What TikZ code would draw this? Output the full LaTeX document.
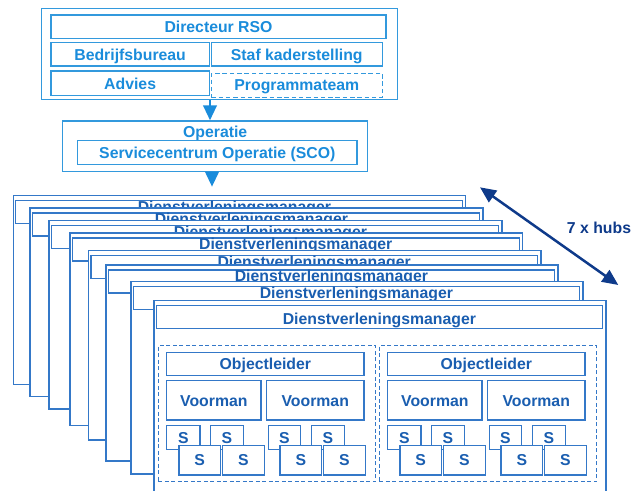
\documentclass[tikz,border=0pt]{standalone}
\usepackage{fontspec}
\setmainfont{Liberation Sans}
\usetikzlibrary{arrows.meta}
\definecolor{topline}{HTML}{3399DD}
\definecolor{toptext}{HTML}{1A8CDB}
\definecolor{lowline}{HTML}{3478C8}
\definecolor{lowtext}{HTML}{1A5EB0}
\definecolor{navyblue}{HTML}{0E3A8A}
\newcommand\rbox[7][]{\node[#1, minimum width={((#5)-(#3))*1pt}, minimum height={((#6)-(#4))*1pt}] (#2) at ({((#3)+(#5))/2},{((#4)+(#6))/2}) {#7};}
\begin{document}
\begin{tikzpicture}[x=1pt,y=-1pt,
  every node/.style={font=\bfseries\fontsize{15.8}{18}\selectfont, inner sep=0pt, text height=11.3pt, text depth=0pt},
  tbox/.style={draw=topline, line width=1.4pt, text=toptext},
  tdash/.style={tbox, line width=1.3pt, dash pattern=on 4.5pt off 2.8pt},
  sheetbox/.style={draw=lowline, line width=1.4pt, fill=white},
  hdr/.style={draw=lowline, line width=1.4pt, text=lowtext, text height=12.1pt, text depth=10.9pt},
  hdrlast/.style={hdr, text height=18.6pt, text depth=4.4pt},
  lbox/.style={draw=lowline, line width=1.4pt, text=lowtext, fill=white},
  grp/.style={draw=lowline, line width=1.4pt, dash pattern=on 4pt off 2.5pt},
  bluearrow/.style={draw=toptext, fill=toptext, line width=2.5pt, -{Triangle[width=13.5pt,length=15pt]}},
  hubarrow/.style={draw=navyblue, fill=navyblue, line width=2.5pt, {Triangle[width=14pt,length=16pt]}-{Triangle[width=14pt,length=16pt]}}
]
\fill[white] (0,0) rectangle (631,490);
\useasboundingbox (0,0) rectangle (631,490);

% top block
\rbox[tbox]{topbox}{41.7}{8.3}{397.7}{99.3}{}
\rbox[tbox]{dir}{51}{15}{386}{38.3}{Directeur RSO}
\rbox[tbox]{bedr}{51}{42.7}{209.3}{66}{Bedrijfsbureau}
\rbox[tbox]{staf}{211.3}{42.7}{382.3}{66}{Staf kaderstelling}
\rbox[tbox]{adv}{51}{71}{209.3}{95.7}{Advies}
\rbox[tdash]{prog}{211.3}{73.3}{382.3}{97.3}{Programmateam}

% operatie
\rbox[tbox, text height=16.3pt, text depth=34.4pt]{oper}{62.7}{121}{367.7}{171.7}{Operatie}
\rbox[tbox]{sco}{77.7}{140.7}{357}{164.3}{Servicecentrum Operatie (SCO)}

\coordinate (ax1) at (210,0);
\coordinate (ax2) at (212,0);
\coordinate (a2end) at (212,186.7);
\draw[bluearrow] (topbox.south -| ax1) -- (oper.north -| ax1);
\draw[bluearrow] (oper.south -| ax2) -- (a2end);

% stack of sheets
\foreach \i/\l/\t/\r/\b/\pad in {1/13.3/195.7/465.7/384.3/9, 2/30/208/483/396.7/9, 3/49/220.7/502/409/9, 4/70/233/522.7/425.7/0, 5/88.5/250.7/541/440/0, 6/106/265/558/461/0, 7/131/281.7/583/474/0}{
  \rbox[sheetbox]{sheet\i}{\l}{\t}{\r}{\b}{}
  \rbox[hdr]{hdr\i}{\l+2.3}{\t+4.8}{\r-3.5}{\t+27.8}{Dienstverleningsmanager\hspace*{\pad pt}}
}
\rbox[sheetbox]{sheet8}{154}{300.7}{606}{496}{}
\rbox[hdrlast]{hdr8}{156.3}{305.5}{602.5}{328.5}{Dienstverleningsmanager}

% content of front sheet
\foreach \o/\s in {0/L,221/R}{
  \rbox[grp]{grp\s}{158.3+\o}{345.7}{375.7+\o}{481.7}{}
  \rbox[lbox]{obj\s}{166.7+\o}{352.3}{364+\o}{375.7}{Objectleider}
  \rbox[lbox]{va\s}{166.7+\o}{380.7}{261+\o}{420}{Voorman}
  \rbox[lbox]{vb\s}{266.5+\o}{380.7}{364+\o}{420}{Voorman}
  \rbox[lbox]{sa\s}{166.7+\o}{425.7}{200+\o}{449.5}{S}
  \rbox[lbox]{sb\s}{210.7+\o}{425.7}{243.3+\o}{449.5}{S}
  \rbox[lbox]{sc\s}{268.3+\o}{425.7}{300.7+\o}{449.5}{S}
  \rbox[lbox]{sd\s}{311.7+\o}{425.7}{344.3+\o}{449.5}{S}
  \rbox[lbox]{se\s}{179+\o}{445.3}{220.3+\o}{475}{S}
  \rbox[lbox]{sf\s}{222.7+\o}{445.3}{264.3+\o}{475}{S}
  \rbox[lbox]{sg\s}{280+\o}{445.3}{321.7+\o}{475}{S}
  \rbox[lbox]{sh\s}{323.7+\o}{445.3}{365.3+\o}{475}{S}
}

% hubs arrow
\coordinate (h1) at (480,187.3);
\coordinate (h2) at (618.3,285);
\draw[hubarrow] (h1) -- (h2);
\node[text=navyblue] (hubs) at (599,228.3) {7 x hubs};
\end{tikzpicture}
\end{document}
